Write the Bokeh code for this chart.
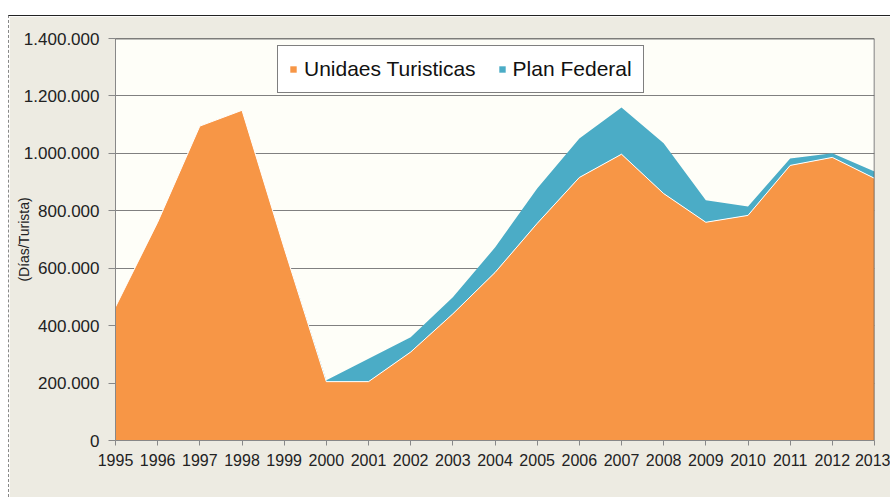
from bokeh.plotting import figure
from bokeh.models import FixedTicker, Span, Legend, LegendItem, ColumnDataSource
from bokeh.embed import file_html
from bokeh.resources import INLINE

years = [1995, 1996, 1997, 1998, 1999, 2000, 2001, 2002, 2003, 2004,
         2005, 2006, 2007, 2008, 2009, 2010, 2011, 2012, 2013]
unidades = [465000, 760000, 1095000, 1150000, 670000, 205000, 205000, 308000, 441000, 585000,
            756000, 916000, 997000, 860000, 760000, 784000, 958000, 986000, 913000]
plan_federal = [0, 0, 0, 0, 0, 5000, 80000, 52000, 58000, 87000,
                122000, 136000, 163000, 175000, 77000, 31000, 24000, 14000, 24000]
y_ticks = [0, 200000, 400000, 600000, 800000, 1000000, 1200000, 1400000]
y_tick_labels = ["0", "200.000", "400.000", "600.000", "800.000", "1.000.000", "1.200.000", "1.400.000"]
series_names = ["Unidaes Turisticas", "Plan Federal"]
y_label = "(Días/Turista)"

total = [a + b for a, b in zip(unidades, plan_federal)]
src = ColumnDataSource(dict(x=years, zero=[0] * len(years), u=unidades, t=total))

FONT = "Liberation Sans"
BG = "#EDEBE2"

p = figure(width=882, height=482, output_backend="svg", toolbar_location=None,
           x_range=(years[0], years[-1]), y_range=(0, 1400000),
           min_border_left=106, min_border_right=17, min_border_top=22, min_border_bottom=58,
           background_fill_color="#FEFEF8", border_fill_color=BG)
p.margin = (15, 0, 0, 8)
p.outline_line_color = None

orange = "#F79646"
blue = "#4BACC6"

r_blue = p.varea(x="x", y1="u", y2="t", source=src, fill_color=blue)
r_orange = p.varea(x="x", y1="zero", y2="u", source=src, fill_color=orange)
p.line(x="x", y="u", source=src, line_color="white", line_width=1)

p.add_layout(Span(location=1400000, dimension="width", line_color="black", line_width=1.5))
p.add_layout(Span(location=years[-1], dimension="height", line_color="#555555", line_width=1.5))

# axes
p.xaxis.ticker = FixedTicker(ticks=years)
p.xaxis.minor_tick_line_color = None
p.xaxis.axis_line_color = "#888888"
p.xaxis.major_tick_line_color = "#888888"
p.xaxis.major_tick_out = 5
p.xaxis.major_tick_in = 0
p.xaxis.major_label_text_font = FONT
p.xaxis.major_label_text_font_size = "16px"
p.xaxis.major_label_text_color = "#222222"
p.xaxis.major_label_standoff = 8

p.yaxis.ticker = FixedTicker(ticks=y_ticks)
p.yaxis.major_label_overrides = {t: l for t, l in zip(y_ticks, y_tick_labels)}
p.yaxis.minor_tick_line_color = None
p.yaxis.axis_line_color = "#888888"
p.yaxis.major_tick_line_color = "#888888"
p.yaxis.major_tick_out = 7
p.yaxis.major_tick_in = 0
p.yaxis.major_label_text_font = FONT
p.yaxis.major_label_text_font_size = "17px"
p.yaxis.major_label_text_color = "#222222"
p.yaxis.major_label_standoff = 9
p.yaxis.axis_label = y_label
p.yaxis.axis_label_text_font = FONT
p.yaxis.axis_label_text_font_size = "14px"
p.yaxis.axis_label_text_font_style = "normal"
p.yaxis.axis_label_text_color = "#222222"
p.yaxis.axis_label_standoff = -11

p.xgrid.grid_line_color = None
p.ygrid.grid_line_color = "#808080"
p.ygrid.grid_line_width = 1

legend = Legend(items=[LegendItem(label=series_names[0], renderers=[r_orange]),
                       LegendItem(label=series_names[1], renderers=[r_blue])],
                orientation="horizontal", location=(162, 347),
                label_text_font=FONT, label_text_font_size="21px", label_text_color="#111111",
                glyph_width=8, glyph_height=8, label_standoff=7, spacing=22,
                padding=11, margin=0,
                border_line_color="black", border_line_width=1,
                background_fill_color="white", background_fill_alpha=1)
p.add_layout(legend, "center")

p.styles = {"border-top": "1px solid #222", "border-left": "1px dashed #888"}

open("out.html", "w").write(file_html(p, INLINE))
